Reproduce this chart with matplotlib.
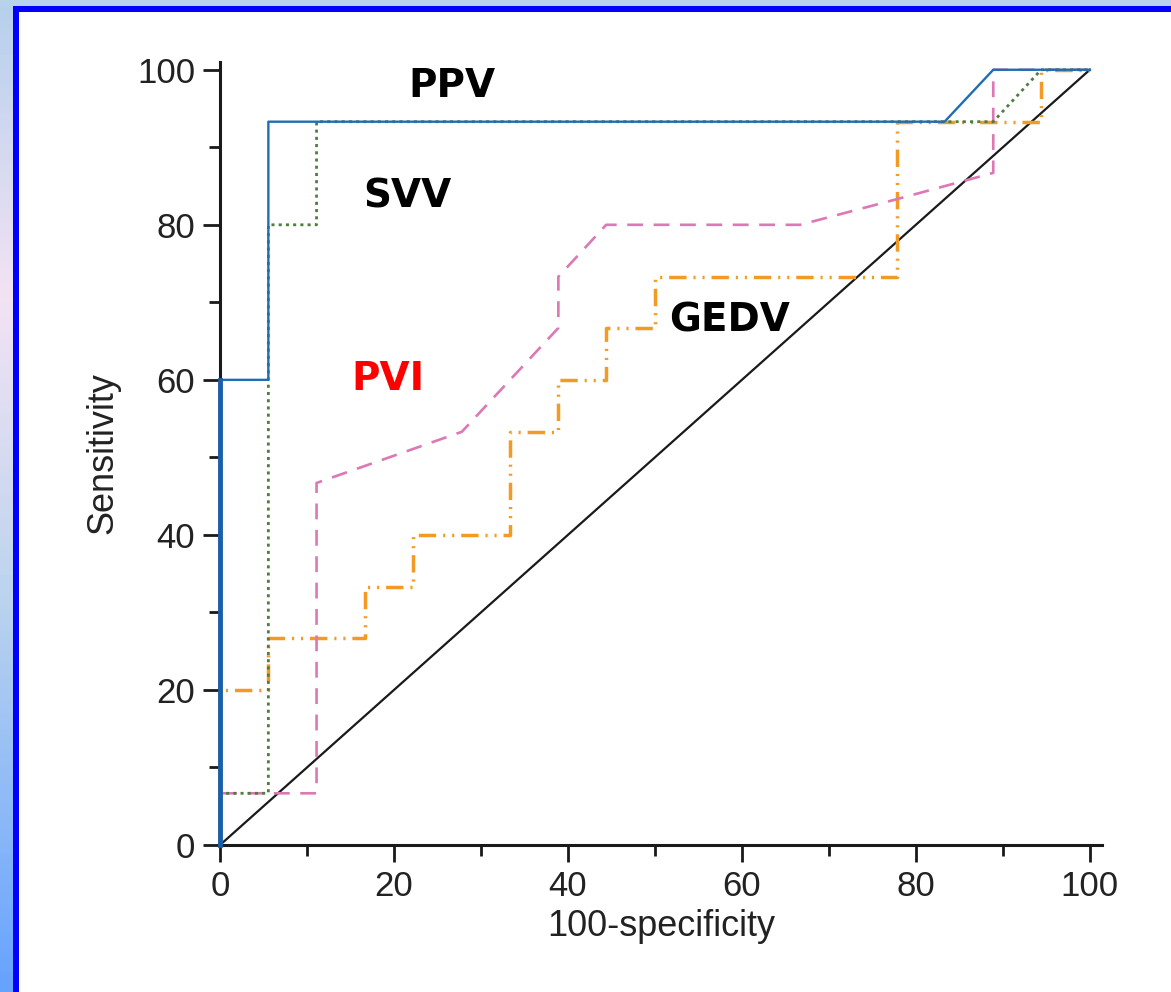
import numpy as np
import matplotlib
matplotlib.use("Agg")
import matplotlib.pyplot as plt
from matplotlib.colors import LinearSegmentedColormap
from matplotlib.patches import Rectangle

# ROC curves, x = 100-specificity, y = sensitivity (%)
ppv_x = [0, 0, 5.56, 5.56, 83.3, 88.9, 100]
ppv_y = [0, 60, 60, 93.3, 93.3, 100, 100]

svv_x = [0, 0, 5.56, 5.56, 11.1, 11.1, 88.9, 94.4, 100]
svv_y = [0, 6.67, 6.67, 80, 80, 93.3, 93.3, 100, 100]

pvi_x = [0, 0, 11.1, 11.1, 27.8, 38.9, 38.9, 44.4, 66.7, 77.8, 88.9, 88.9, 100]
pvi_y = [0, 6.67, 6.67, 46.7, 53.3, 66.7, 73.3, 80, 80, 83.3, 86.7, 100, 100]

gedv_x = [0, 0, 5.56, 5.56, 16.7, 16.7, 22.2, 22.2, 33.3, 33.3, 38.9, 38.9,
          44.4, 44.4, 50, 50, 77.8, 77.8, 94.4, 94.4, 100]
gedv_y = [0, 20, 20, 26.7, 26.7, 33.3, 33.3, 40, 40, 53.3, 53.3, 60,
          60, 66.7, 66.7, 73.3, 73.3, 93.3, 93.3, 100, 100]

ref_x = [0, 100]
ref_y = [0, 100]

labels = ["PPV", "SVV", "PVI", "GEDV"]
label_pos = [(26.7, 97.9), (21.5, 83.7), (19.3, 60.1), (58.6, 67.6)]
label_colors = ["black", "black", "red", "black"]

W, H = 1171, 992
fig = plt.figure(figsize=(W / 100, H / 100), dpi=100)
fig.patch.set_facecolor("white")

# slide-style frame: gradient strip on the left, light strip on top, blue border
grad = LinearSegmentedColormap.from_list(
    "side", [(0, "#b6d0ec"), (0.3, "#f3e3f4"), (0.6, "#bcd4ee"), (1, "#66a3ff")])
bg = fig.add_axes([0, 0, 13 / W, 1])
bg.imshow(np.linspace(0, 1, 200).reshape(-1, 1), aspect="auto", cmap=grad)
bg.axis("off")
fig.patches.append(Rectangle((0, 1 - 6 / H), 1, 6 / H, transform=fig.transFigure,
                             facecolor="#b8d2ee", edgecolor="none"))
fig.patches.append(Rectangle((13 / W, 0), 6 / W, 1 - 6 / H, transform=fig.transFigure,
                             facecolor="#0000ff", edgecolor="none"))
fig.patches.append(Rectangle((13 / W, 1 - 12 / H), 1, 6 / H, transform=fig.transFigure,
                             facecolor="#0000ff", edgecolor="none"))

ax = fig.add_axes([220 / W, 147 / H, 882 / W, 783 / H])
ax.set_xlim(0, 101.4)
ax.set_ylim(0, 101)

ax.plot(ref_x, ref_y, color="#1a1a1a", lw=1.6, zorder=2)
ax.plot(gedv_x, gedv_y, color="#f39a25", lw=2.5,
        linestyle=(0, (5, 2, 0.6, 2, 0.6, 2)), zorder=3)
ax.plot(pvi_x, pvi_y, color="#dc78b4", lw=1.9, linestyle=(0, (6, 4)), zorder=4)
ax.plot(svv_x, svv_y, color="#4e7d3e", lw=2.0, linestyle=(0, (1.1, 1.5)), zorder=5)
ax.plot(ppv_x, ppv_y, color="#1f6db3", lw=1.7, zorder=6, clip_on=False)
ax.plot([0, 0], [0, 60], color="#1a5fa8", lw=3.5, zorder=7, clip_on=False)

for txt, (x, y), c in zip(labels, label_pos, label_colors):
    ax.text(x, y, txt, color=c, fontsize=28, fontweight="bold", family="DejaVu Sans",
            ha="center", va="center")

for s in ["top", "right"]:
    ax.spines[s].set_visible(False)
for s in ["left", "bottom"]:
    ax.spines[s].set_linewidth(2.2)
    ax.spines[s].set_color("#1a1a1a")

ax.set_xticks(np.arange(0, 101, 20))
ax.set_yticks(np.arange(0, 101, 20))
ax.set_xticks(np.arange(10, 100, 20), minor=True)
ax.set_yticks(np.arange(10, 100, 20), minor=True)
ax.tick_params(which="major", length=12, width=2, color="#1a1a1a",
               labelsize=25, pad=6)
ax.tick_params(which="minor", length=8, width=2, color="#1a1a1a")
for lab in ax.get_xticklabels() + ax.get_yticklabels():
    lab.set_family("Liberation Sans")
    lab.set_color("#222222")

ax.set_xlabel("100-specificity", fontsize=26, family="Liberation Sans",
              color="#222222", labelpad=4)
ax.set_ylabel("Sensitivity", fontsize=26, family="Liberation Sans",
              color="#222222", labelpad=12)

fig.savefig("out.png", dpi=100)
